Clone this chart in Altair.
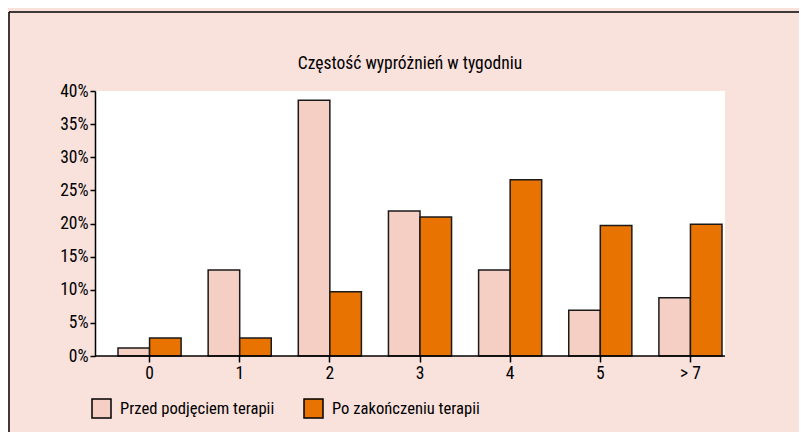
import altair as alt
import pandas as pd

categories = ["0", "1", "2", "3", "4", "5", "> 7"]
series = ["Przed podjęciem terapii", "Po zakończeniu terapii"]
before = [1.2, 13.0, 38.6, 21.9, 13.0, 6.9, 8.8]
after = [2.7, 2.7, 9.7, 21.0, 26.6, 19.7, 19.9]
y_ticks = [0, 5, 10, 15, 20, 25, 30, 35, 40]
title_text = "Częstość wypróżnień w tygodniu"

rows = []
for c, b, a in zip(categories, before, after):
    rows.append({"cat": c, "series": series[0], "value": b})
    rows.append({"cat": c, "series": series[1], "value": a})
df = pd.DataFrame(rows)

FONT = "Liberation Sans Narrow, Roboto Condensed, DejaVu Sans Condensed, sans-serif"
FS = 17.5
PINK_BG = "#f9e1dc"
W, H = 630, 265

y_enc = alt.Y(
    "value:Q",
    scale=alt.Scale(domain=[0, 40], nice=False),
    axis=alt.Axis(
        title=None, values=y_ticks, labelExpr="datum.value + '%'", grid=False,
        labelOverlap=False, labelBound=False,
        tickSize=5, tickWidth=1.5, tickColor="black", domainColor="black",
        domainWidth=1.5, labelFontSize=FS, labelFont=FONT, labelColor="black",
        labelPadding=2,
    ),
)

bars = alt.Chart(df).mark_bar(stroke="#1a1a1a", strokeWidth=1.5).encode(
    x=alt.X(
        "cat:N",
        sort=categories,
        scale=alt.Scale(range=[23, 627], paddingInner=0.3, paddingOuter=0),
        axis=alt.Axis(
            title=None, labelAngle=0, domain=False, tickSize=6, tickWidth=1.5,
            tickColor="black", labelFontSize=FS, labelFont=FONT,
            labelColor="black", labelPadding=2,
        ),
    ),
    xOffset=alt.XOffset("series:N", sort=series, scale=alt.Scale(paddingInner=0)),
    y=y_enc,
    color=alt.Color(
        "series:N",
        sort=series,
        scale=alt.Scale(domain=series, range=["#f5cec4", "#e97300"]),
        legend=alt.Legend(
            title=None, orient="none", legendX=-4, legendY=307,
            direction="horizontal", symbolType="square", symbolSize=361,
            symbolStrokeColor="black", symbolStrokeWidth=1.5, symbolOpacity=1,
            labelFontSize=16.6, labelFont=FONT, labelColor="black",
            labelLimit=400, labelOffset=8, columnPadding=26, padding=0,
        ),
    ),
)

baseline = alt.Chart(pd.DataFrame({"value": [0]})).mark_rule(
    color="black", strokeWidth=1.5
).encode(y=y_enc, x=alt.value(0), x2=alt.value(W))

frame_top = alt.Chart(pd.DataFrame({"value": [0]})).mark_rule(
    color="black", strokeWidth=1.5
).encode(x=alt.value(-86), x2=alt.value(712), y=alt.value(-79))

frame_left = alt.Chart(pd.DataFrame({"value": [0]})).mark_rule(
    color="black", strokeWidth=1.5
).encode(x=alt.value(-86), y=alt.value(-79), y2=alt.value(349))

chart = alt.layer(bars, baseline, frame_top, frame_left).properties(
    width=W,
    height=H,
    title=alt.TitleParams(
        title_text, fontSize=FS, font=FONT, fontWeight="normal",
        color="black", anchor="middle", offset=-61,
    ),
    background=PINK_BG,
    padding={"left": 87, "top": 83, "right": 74, "bottom": 76},
    autosize="none",
).configure_view(fill="white", stroke=None)

chart.save("out.html", embed_options={"renderer": "svg", "actions": False})
